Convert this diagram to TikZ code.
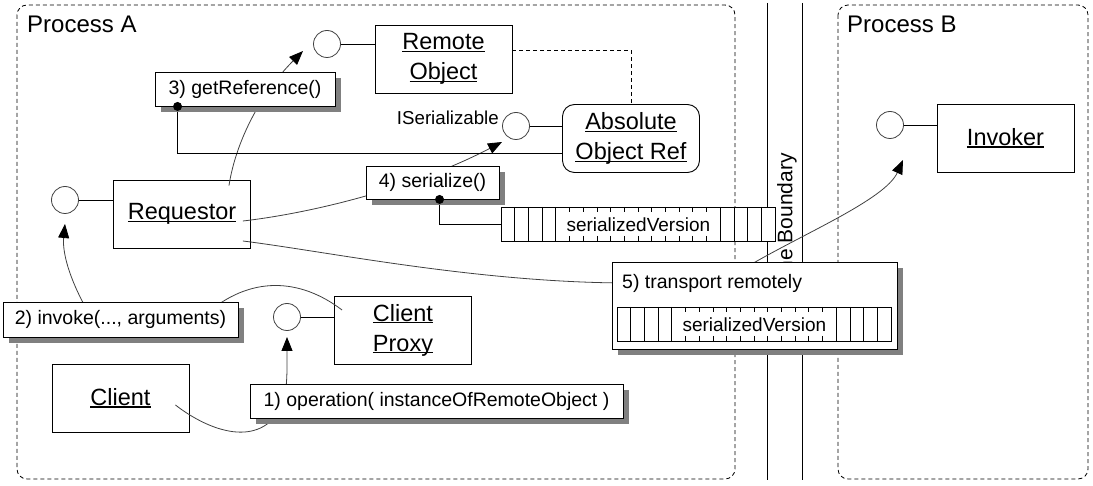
\documentclass[tikz,border=0pt]{standalone}
\usepackage{fontspec}
\setmainfont{Liberation Sans}
\usetikzlibrary{arrows.meta}
\usetikzlibrary{shadows}
\pgfdeclarelayer{links}
\pgfdeclarelayer{front}
\pgfsetlayers{main,links,front}
\newcommand{\namefont}{\fontsize{23.5}{30}\selectfont}
\newcommand{\msgfont}{\fontsize{19.5}{23}\selectfont}
% underline just under the baseline
\newsavebox{\ulbox}
\newcommand{\ul}[1]{\leavevmode\sbox{\ulbox}{#1}\rlap{\rule[-2.2pt]{\wd\ulbox}{1.2pt}}\usebox{\ulbox}}
% serialized byte string: name, left x, top y
\newcommand{\serialbar}[3]{%
  \node[bytes, anchor=north west] (#1) at (#2,#3) {serializedVersion};
  \foreach \i in {1,2,3,4,16,17,18,19}
    \draw[cell] (#2+\i*13.7,#3) -- (#2+\i*13.7,#3+34);
  \foreach \i in {5,...,15}{
    \draw[cell] (#2+\i*13.7,#3) -- (#2+\i*13.7,#3+5);
    \draw[cell] (#2+\i*13.7,#3+29) -- (#2+\i*13.7,#3+34);
  }
}

\begin{document}
\begin{tikzpicture}[x=1pt,y=-1pt]
  \tikzset{
    component/.style={draw, fill=white, line width=0.9pt, minimum width=137pt,
      minimum height=68pt, align=center, font=\namefont, inner sep=2pt},
    lolli/.style={draw=black!75, fill=white, circle, line width=0.8pt,
      minimum size=27pt, inner sep=0pt},
    stick/.style={line width=0.8pt},
    msg/.style={draw, fill=white, line width=0.9pt, minimum height=34pt,
      font=\msgfont, inner sep=2pt,
      drop shadow={shadow xshift=6pt, shadow yshift=-6pt, fill=black!50, opacity=1}},
    bytes/.style={draw, fill=white, line width=0.7pt, minimum width=274pt,
      minimum height=34pt, inner sep=0pt, font=\fontsize{19}{22}\selectfont},
    cell/.style={line width=0.7pt},
    dot/.style={fill=black, circle, minimum size=9pt, inner sep=0pt},
    frame/.style={dashed, dash pattern=on 4pt off 3pt, line width=0.8pt, rounded corners=10pt},
    link/.style={draw=black!75, line width=0.8pt},
    arr/.style={-{Triangle[length=14pt, width=11pt, color=black]}}
  }
  \useasboundingbox (0,0) rectangle (1093,486);

  % Process frames
  \draw[frame] (17,5) rectangle (735,479);
  \draw[frame] (838,5) rectangle (1088,479);
  \node[anchor=base west, inner sep=0pt, font=\fontsize{24}{28}\selectfont] (pa) at (27,33) {Process A};
  \node[anchor=base west, inner sep=0pt, font=\fontsize{24}{28}\selectfont] (pb) at (847,33) {Process B};

  % Machine boundary
  \draw[line width=0.9pt] (767,3) -- (767,480);
  \draw[line width=0.9pt] (802,3) -- (802,480);
  \node[rotate=90, anchor=east, inner sep=0pt, font=\fontsize{21}{25}\selectfont] (mb) at (787,153) {Machine Boundary};

  % Components
  \node[component] (ro) at (443.5,59) {\ul{Remote}\\\ul{Object}};
  \node[component, rounded corners=12pt] (aor) at (631,138.5) {\ul{Absolute}\\\ul{Object Ref}};
  \node[component] (req) at (182,214) {\ul{Requestor}};
  \node[component] (cp) at (403,330) {\ul{Client}\\\ul{Proxy}};
  \node[component] (cl) at (120.5,398) {\ul{Client}};
  \node[component] (inv) at (1005.5,138) {\ul{Invoker}};

  % Interfaces
  \node[lolli] (lro) at (327,44) {};
  \node[lolli] (laor) at (516,126) {};
  \node[lolli] (lreq) at (65,200) {};
  \node[lolli] (lcp) at (287,317) {};
  \node[lolli] (linv) at (890,125) {};
  \draw[stick] (lro) -- (lro -| ro.west);
  \draw[stick] (laor) -- (laor -| aor.west);
  \draw[stick] (lreq) -- (lreq -| req.west);
  \draw[stick] (lcp) -- (lcp -| cp.west);
  \draw[stick] (linv) -- (linv -| inv.west);
  \node[anchor=base east, inner sep=0pt, font=\fontsize{18.7}{22}\selectfont] (iser) at (499,125) {ISerializable};

  % Remote object and its reference
  \draw[dashed, dash pattern=on 4pt off 3pt, line width=0.8pt] ([yshift=9pt]ro.east) -| (aor.north);

  % Serialized version in process A
  \serialbar{sv}{501}{207}

  % Message labels
  \begin{pgfonlayer}{front}
    \node[msg, minimum width=180pt] (getref) at (245,89) {3) getReference()};
    \node[msg, minimum width=235pt, minimum height=35pt] (invoke) at (120.5,319.5) {2) invoke(..., arguments)};
    \node[msg, minimum width=373pt] (oper) at (436.5,401) {1) operation( instanceOfRemoteObject )};
    \node[msg, minimum width=133pt, minimum height=33pt] (ser) at (432.5,182.5) {4) serialize()};
    \node[msg, minimum width=285pt, minimum height=87pt] (tr) at (754.5,305.5) {};
    \node[anchor=west, inner sep=0pt, font=\msgfont] (trtext) at (622,283) {5) transport remotely};
    \serialbar{svtr}{617}{307}
    \node[dot] (d3) at ([xshift=23pt]getref.south west) {};
    \node[dot] (d4) at ([xshift=74pt]ser.south west) {};
  \end{pgfonlayer}

  % Arrow tips
  \coordinate (t1) at ([shift={(0,20)}]lcp.center);
  \coordinate (t2) at ([shift={(0,24)}]lreq.center);
  \coordinate (t3) at ([shift={(-24,7)}]lro.center);
  \coordinate (t4) at ([shift={(-14,16)}]laor.center);
  \coordinate (t5) at ([shift={(13,35)}]linv.center);

  % Links
  \begin{pgfonlayer}{links}
    \draw[link, arr] ([shift={(-14,7)}]cl.east) .. controls (205,428) and (255,450) .. (280,410)
      .. controls (288,395) and (287,370) .. (t1);
    \draw[link, arr] ([shift={(8,-20)}]cp.west) .. controls (300,278) and (250,275) .. (205,315)
      -- (90,315) .. controls (72,285) and (62,255) .. (t2);
    \draw[link, arr] ([shift={(47,6)}]req.north) .. controls (236,140) and (262,92) .. (t3);
    \draw[link, arr] ([shift={(-8,7)}]req.east) .. controls (320,212) and (420,185) .. (t4);
    \draw[link, arr] ([shift={(-8,27)}]req.east) .. controls (330,252) and (480,283) .. (630,283)
      -- (745,268) .. controls (800,235) and (885,200) .. (t5);
    % Reference and serialization results
    \draw[stick] (d3) |- ([yshift=-14.5pt]aor.west);
    \draw[stick] (d4) |- (sv.west);
  \end{pgfonlayer}
\end{tikzpicture}
\end{document}
